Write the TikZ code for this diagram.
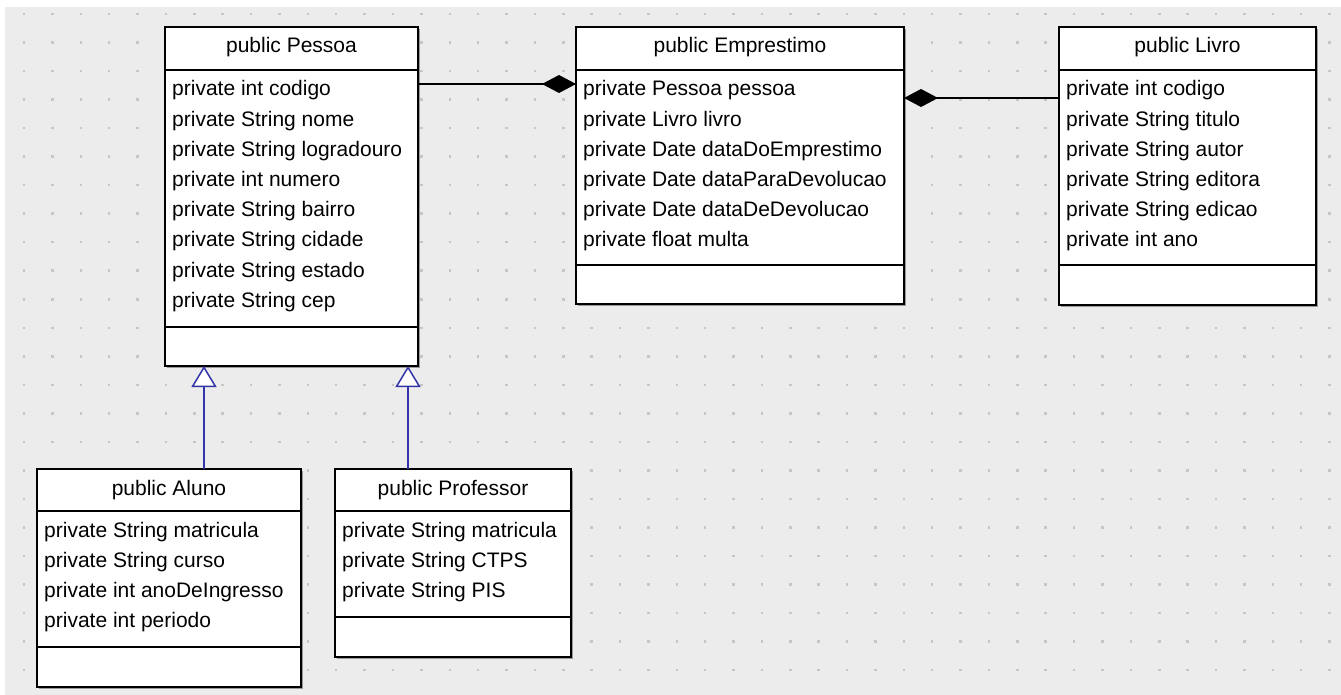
\documentclass[tikz,border=0pt]{standalone}
\usepackage{fontspec}
\setmainfont{Liberation Sans}
\usetikzlibrary{arrows.meta,shadows,calc}
\definecolor{canvasgray}{HTML}{ECECEC}
\definecolor{griddot}{HTML}{C6C6C6}
\definecolor{inhblue}{RGB}{51,51,170}

\begin{document}
\begin{tikzpicture}[x=1pt,y=-1pt,
  classbox/.style={draw=black, line width=1.6pt, fill=white, rectangle,
    anchor=north west, inner sep=0, outer sep=0,
    drop shadow={shadow xshift=2.4pt, shadow yshift=-2.4pt, fill=black, opacity=0.35}},
  member/.style={anchor=base west, inner sep=0, font=\fontsize{21}{21}\selectfont},
  title/.style={anchor=base, inner sep=0, font=\fontsize{21}{21}\selectfont},
  sep/.style={line width=1.6pt},
  comp/.style={line width=1.5pt, -{Diamond[length=34pt,width=18pt]}},
  inherit/.style={draw=inhblue, line width=1.5pt,
    -{Triangle[length=21pt,width=25pt,fill=white]}}]

% canvas with dotted grid
\useasboundingbox (0,0) rectangle (1341,695);
\fill[white] (0,0) rectangle (1341,695);
\fill[canvasgray] (5,7) rectangle (1341,695);
\foreach \i in {0,...,46}
  \foreach \j in {0,...,23}
    \fill[griddot] ({22.8+28.38*\i},{12.8+28.52*\j}) rectangle ++(2.5,2.5);

% class boxes
\node[classbox, minimum width=253pt, minimum height=339pt] (pessoa) at (165,27) {};
\node[classbox, minimum width=328pt, minimum height=277pt] (emprestimo) at (576,27) {};
\node[classbox, minimum width=257pt, minimum height=278pt] (livro) at (1059,27) {};
\node[classbox, minimum width=264pt, minimum height=218pt] (aluno) at (37,469) {};
\node[classbox, minimum width=236pt, minimum height=188pt] (professor) at (335,469) {};

% compartment separators
\draw[sep] (pessoa.west |- 0,70) -- (pessoa.east |- 0,70);
\draw[sep] (pessoa.west |- 0,327) -- (pessoa.east |- 0,327);
\draw[sep] (emprestimo.west |- 0,70) -- (emprestimo.east |- 0,70);
\draw[sep] (emprestimo.west |- 0,265) -- (emprestimo.east |- 0,265);
\draw[sep] (livro.west |- 0,70) -- (livro.east |- 0,70);
\draw[sep] (livro.west |- 0,265) -- (livro.east |- 0,265);
\draw[sep] (aluno.west |- 0,511) -- (aluno.east |- 0,511);
\draw[sep] (aluno.west |- 0,647) -- (aluno.east |- 0,647);
\draw[sep] (professor.west |- 0,511) -- (professor.east |- 0,511);
\draw[sep] (professor.west |- 0,617) -- (professor.east |- 0,617);

% class names
\node[title] (pessoa-name) at (291.5,53) {public Pessoa};
\node[title] (emprestimo-name) at (740,53) {public Emprestimo};
\node[title] (livro-name) at (1187.5,53) {public Livro};
\node[title] (aluno-name) at (169,495) {public Aluno};
\node[title] (professor-name) at (453,495) {public Professor};

% attributes
\foreach \t [count=\i] in {private int codigo, private String nome,
    private String logradouro, private int numero, private String bairro,
    private String cidade, private String estado, private String cep}
  \node[member] (pessoa-m\i) at (172,{96+30.2*(\i-1)}) {\t};
\foreach \t [count=\i] in {private Pessoa pessoa, private Livro livro,
    private Date dataDoEmprestimo, private Date dataParaDevolucao,
    private Date dataDeDevolucao, private float multa}
  \node[member] (emprestimo-m\i) at (583,{96+30.2*(\i-1)}) {\t};
\foreach \t [count=\i] in {private int codigo, private String titulo,
    private String autor, private String editora, private String edicao,
    private int ano}
  \node[member] (livro-m\i) at (1066,{96+30.2*(\i-1)}) {\t};
\foreach \t [count=\i] in {private String matricula, private String curso,
    private int anoDeIngresso, private int periodo}
  \node[member] (aluno-m\i) at (44,{537+30.3*(\i-1)}) {\t};
\foreach \t [count=\i] in {private String matricula, private String CTPS,
    private String PIS}
  \node[member] (professor-m\i) at (342,{537+30.3*(\i-1)}) {\t};

% compositions
\draw[comp] (pessoa.east |- 0,84) -- (emprestimo.west |- 0,84);
\draw[comp] (livro.west |- 0,98) -- (emprestimo.east |- 0,98);

% generalizations
\draw[inherit] (aluno.north -| 204,0) -- (pessoa.south -| 204,0);
\draw[inherit] (professor.north -| 408,0) -- (pessoa.south -| 408,0);
\end{tikzpicture}
\end{document}
